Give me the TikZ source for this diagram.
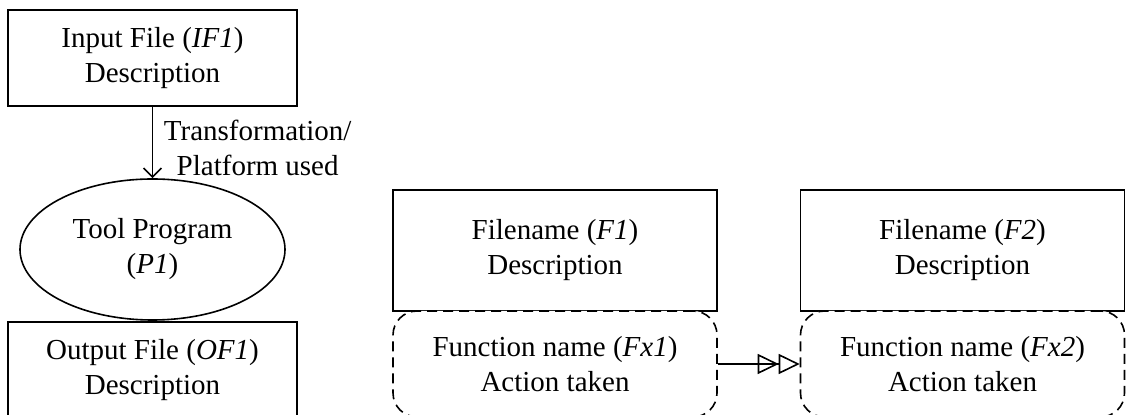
\documentclass[tikz,border=0pt]{standalone}
\usepackage{fontspec}
\setmainfont{Liberation Serif}
\usetikzlibrary{arrows.meta,shapes}

\begin{document}
\begin{tikzpicture}[x=0.5pt,y=-0.5pt,line width=0.8pt,
    font=\fontsize{14.5}{17.5}\selectfont,
    filebox/.style={draw,rectangle,align=center,inner sep=0pt},
    progbox/.style={draw,ellipse,align=center,inner sep=0pt,minimum width=132.5pt,minimum height=70.5pt},
    funcbox/.style={draw,fill=white,rounded corners=12pt,dash pattern=on 5pt off 3pt,align=center,inner sep=0pt,minimum width=162pt,minimum height=53pt}]
            \useasboundingbox (0,0) rectangle (1128,415);
            \clip (0,0) rectangle (1128,415);
            % left: one step of the flow
            \node[filebox,minimum width=144.5pt,minimum height=48pt] (in) at (152.5,58) {Input File (\textit{IF1})\\Description};
            \node[progbox] (prog) at (152.5,249.5) {Tool Program\\(\textit{P1})};
            \node[filebox,minimum width=144.5pt,minimum height=48pt] (out) at (152.5,370) {Output File (\textit{OF1})\\Description};
            \draw[-{Straight Barb[length=4.5pt,width=9pt]}] (in)--(prog)
                node[midway,right=2pt,yshift=-2.75pt,align=center]{Transformation/\\Platform used};
            % right: files and their functions
            \node[filebox,minimum width=162pt,minimum height=60.5pt] (f1) at (555,250.5) {Filename (\textit{F1})\\Description};
            \node[filebox,minimum width=162pt,minimum height=60.5pt] (f2) at (962.5,250.5) {Filename (\textit{F2})\\Description};
            \node[funcbox] (fx1) at (555,364) {Function name (\textit{Fx1})\\Action taken};
            \node[funcbox] (fx2) at (962.5,364) {Function name (\textit{Fx2})\\Action taken};
            \draw[-{Triangle[open,length=10.5pt,width=10pt]Triangle[open,length=10.5pt,width=10pt]}] (fx1)--(fx2);
        \end{tikzpicture}
\end{document}
